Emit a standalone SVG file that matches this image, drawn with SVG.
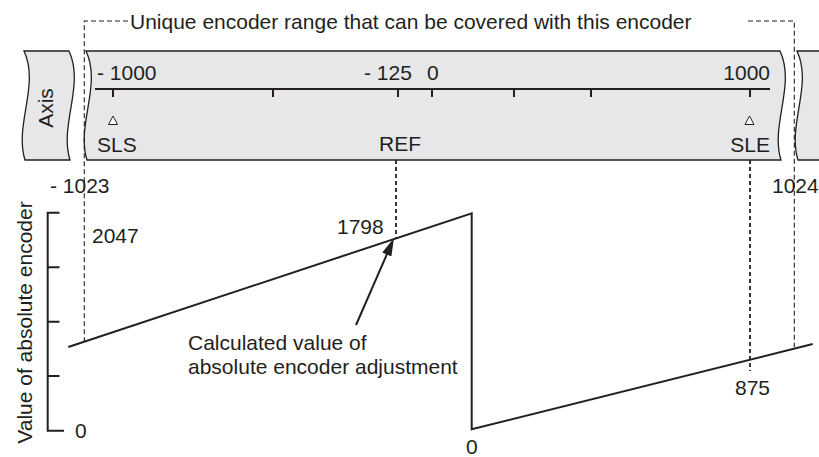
<svg xmlns="http://www.w3.org/2000/svg" width="819" height="457" viewBox="0 0 819 457">
<style>
text{font-family:"Liberation Sans",Arial,sans-serif;font-size:21px;fill:#231f20}
.box{fill:#e7e7e9;stroke:#231f20;stroke-width:1.3}
.solid{fill:none;stroke:#231f20;stroke-width:2}
.range{fill:none;stroke:#231f20;stroke-width:1.1;stroke-dasharray:5 3}
.guide{fill:none;stroke:#231f20;stroke-width:1.8;stroke-dasharray:4 3}
.tri{fill:#fff;stroke:#231f20;stroke-width:1}
</style>
<defs>
<marker id="ah" viewBox="0 0 18 10" refX="8" refY="5" markerWidth="18" markerHeight="10" markerUnits="userSpaceOnUse" orient="auto">
<path d="M0,0 L18,5 L0,10 Z" fill="#231f20"/>
</marker>
</defs>
<rect width="819" height="457" fill="#fff"/>

<g id="axis-box">
<path class="box" d="M24,51 L69,51 C85,85 59,125 70,160 L25,160 C14,125 40,85 24,51 Z"/>
<text transform="translate(53.3,108) rotate(-90)" text-anchor="middle">Axis</text>
</g>

<g id="scale-box">
<path class="box" d="M86,51 L780,51 C796,85 770,125 781,160 L87,160 C76,125 102,85 86,51 Z"/>
<line class="solid" x1="95" y1="89" x2="770" y2="89"/>
<path class="solid" d="M113,89 V97 M273,89 V97 M398,89 V97 M432,89 V97 M514,89 V97 M591,89 V97 M750,89 V97"/>
<text x="97" y="80">- 1000</text>
<text x="364" y="80">- 125</text>
<text x="427" y="80">0</text>
<text x="770" y="80" text-anchor="end">1000</text>
<path class="tri" d="M113,116 L117.5,124.5 L108.5,124.5 Z"/>
<path class="tri" d="M749.5,116 L754,124.5 L745,124.5 Z"/>
<text x="97" y="152">SLS</text>
<text x="379" y="151">REF</text>
<text x="770" y="152" text-anchor="end">SLE</text>
</g>

<g id="next-box">
<path class="box" d="M797,51 L825,51 L825,160 L798,160 C787,125 813,85 797,51 Z"/>
</g>

<g id="range-label">
<text x="130" y="28.5">Unique encoder range that can be covered with this encoder</text>
<text x="50" y="193">- 1023</text>
<text x="772" y="193">1024</text>
</g>

<g id="y-axis">
<path class="solid" d="M47.7,212.7 V430.7 M46.7,212.7 H59.5 M47.7,267.3 H59.5 M47.7,321.7 H59.5 M47.7,376 H59.5 M46.7,430.7 H64"/>
<text transform="translate(31.5,322.5) rotate(-90)" text-anchor="middle">Value of absolute encoder</text>
<text x="75" y="438">0</text>
<text x="92" y="243">2047</text>
</g>

<g id="curve">
<path class="solid" d="M68.3,347 L471.7,213.3 L471.7,429.3 L812.7,344"/>
<text x="337" y="234">1798</text>
<text x="770" y="395" text-anchor="end">875</text>
<text x="466" y="454">0</text>
</g>

<g id="annotation">
<text x="188" y="350">Calculated value of</text>
<text x="188" y="373.5">absolute encoder adjustment</text>
</g>

<g id="connectors">
<path class="range" d="M128,21 H84.3 V341"/>
<path class="range" d="M748,21 H794.3 V347"/>
<line class="guide" x1="396" y1="160" x2="396" y2="238"/>
<line class="guide" x1="750" y1="160" x2="750" y2="371"/>
<line class="solid" x1="356" y1="325" x2="390" y2="247.2" marker-end="url(#ah)"/>
</g>
</svg>
